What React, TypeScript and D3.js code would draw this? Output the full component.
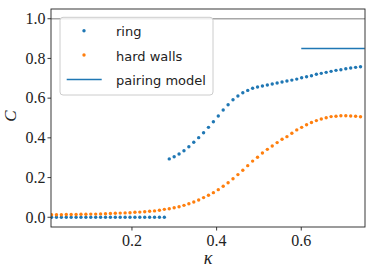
import React from "react";
import * as d3 from "d3";

// kappa grid (evenly spaced samples, 64 points)
const kappa: number[] = d3.range(64).map((i) => 0.01 + (i * 0.73) / 63);

const ringC: number[] = [
  0, 0, 0, 0, 0, 0, 0, 0, 0, 0, 0, 0, 0, 0, 0, 0, 0, 0, 0, 0, 0, 0, 0, 0,
  0.294, 0.305, 0.319, 0.335, 0.355, 0.378, 0.401, 0.426, 0.453, 0.481,
  0.51, 0.54, 0.567, 0.592, 0.611, 0.627, 0.639, 0.65, 0.656, 0.661,
  0.666, 0.671, 0.676, 0.681, 0.686, 0.691, 0.696, 0.703, 0.708, 0.713,
  0.72, 0.725, 0.73, 0.735, 0.74, 0.743, 0.748, 0.752, 0.755, 0.758,
];

const hardC: number[] = [
  0.013, 0.013, 0.013, 0.014, 0.014, 0.014, 0.015, 0.015, 0.016, 0.016,
  0.017, 0.018, 0.019, 0.02, 0.021, 0.022, 0.023, 0.025, 0.026, 0.028,
  0.03, 0.032, 0.035, 0.04, 0.043, 0.048, 0.053, 0.06, 0.068, 0.077,
  0.087, 0.099, 0.111, 0.124, 0.139, 0.156, 0.174, 0.194, 0.215, 0.237,
  0.26, 0.283, 0.302, 0.324, 0.342, 0.359, 0.376, 0.393, 0.406, 0.423,
  0.44, 0.453, 0.466, 0.477, 0.487, 0.495, 0.501, 0.507, 0.509, 0.511,
  0.511, 0.51, 0.509, 0.506,
];

const pairingKappa: number[] = [0.6, 0.75];
const pairingC = 0.85;
const upperC = 1.0;

const xTicks: number[] = [0.2, 0.4, 0.6];
const yTicks: number[] = [0.0, 0.2, 0.4, 0.6, 0.8, 1.0];
const legendLabels: string[] = ["ring", "hard walls", "pairing model"];

const W = 374;
const H = 274;
const left = 51;
const right = 365;
const top = 9;
const bottom = 227;

const BLUE = "#1f77b4";
const ORANGE = "#ff7f0e";
const serif = "'Liberation Serif', 'DejaVu Serif', serif";
const sans = "'DejaVu Sans', sans-serif";

export default function App() {
  const x = d3.scaleLinear().domain([0.0087, 0.7506]).range([left, right]);
  const y = d3.scaleLinear().domain([-0.049, 1.049]).range([bottom, top]);

  const legendY = [30.7, 55, 79.5];

  return (
    <svg
      width={W}
      height={H}
      style={{ position: "absolute", left: 0, top: 0, background: "#fff" }}
    >
      <defs>
        <clipPath id="plot">
          <rect x={left} y={top} width={right - left} height={bottom - top} />
        </clipPath>
      </defs>
      <g clipPath="url(#plot)">
        <line
          x1={left}
          x2={right}
          y1={y(upperC)}
          y2={y(upperC)}
          stroke="#a8a8a8"
          strokeWidth={1.6}
        />
        <line
          x1={x(pairingKappa[0])}
          x2={x(pairingKappa[1])}
          y1={y(pairingC)}
          y2={y(pairingC)}
          stroke={BLUE}
          strokeWidth={1.5}
        />
        {ringC.map((c, i) => (
          <circle key={"r" + i} cx={x(kappa[i])} cy={y(c)} r={1.7} fill={BLUE} />
        ))}
        {hardC.map((c, i) => (
          <circle key={"h" + i} cx={x(kappa[i])} cy={y(c)} r={1.7} fill={ORANGE} />
        ))}
      </g>

      {/* frame */}
      <rect
        x={left}
        y={top}
        width={right - left}
        height={bottom - top}
        fill="none"
        stroke="#222"
        strokeWidth={0.9}
      />

      {/* x axis */}
      {xTicks.map((t) => (
        <g key={"xt" + t}>
          <line x1={x(t)} x2={x(t)} y1={bottom} y2={bottom + 3.5} stroke="#222" strokeWidth={0.9} />
          <text
            x={x(t)}
            y={245.5}
            textAnchor="middle"
            fontFamily={serif}
            fontSize={16}
            fill="#222"
          >
            {t.toFixed(1)}
          </text>
        </g>
      ))}
      {yTicks.map((t) => (
        <g key={"yt" + t}>
          <line x1={left - 3.5} x2={left} y1={y(t)} y2={y(t)} stroke="#222" strokeWidth={0.9} />
          <text
            x={45.5}
            y={y(t) + 5.3}
            textAnchor="end"
            fontFamily={serif}
            fontSize={16}
            fill="#222"
          >
            {t.toFixed(1)}
          </text>
        </g>
      ))}
      <text
        x={(left + right) / 2}
        y={263.5}
        textAnchor="middle"
        fontFamily={serif}
        fontStyle="italic"
        fontSize={18}
        fill="#222"
      >
        κ
      </text>
      <text
        transform="translate(16,116) rotate(-90)"
        textAnchor="middle"
        fontFamily={serif}
        fontStyle="italic"
        fontSize={17}
        fill="#222"
      >
        C
      </text>

      {/* legend */}
      <rect
        x={60}
        y={17.3}
        width={153}
        height={77.7}
        rx={3}
        fill="#fff"
        fillOpacity={0.8}
        stroke="#cccccc"
        strokeWidth={1}
      />
      <circle cx={84} cy={legendY[0]} r={1.7} fill={BLUE} />
      <circle cx={84} cy={legendY[1]} r={1.7} fill={ORANGE} />
      <line x1={66.7} x2={101.7} y1={legendY[2]} y2={legendY[2]} stroke={BLUE} strokeWidth={1.5} />
      {legendLabels.map((l, i) => (
        <text
          key={l}
          x={116}
          y={legendY[i] + 5.5}
          fontFamily={sans}
          fontSize={13}
          fill="#222"
        >
          {l}
        </text>
      ))}
    </svg>
  );
}
